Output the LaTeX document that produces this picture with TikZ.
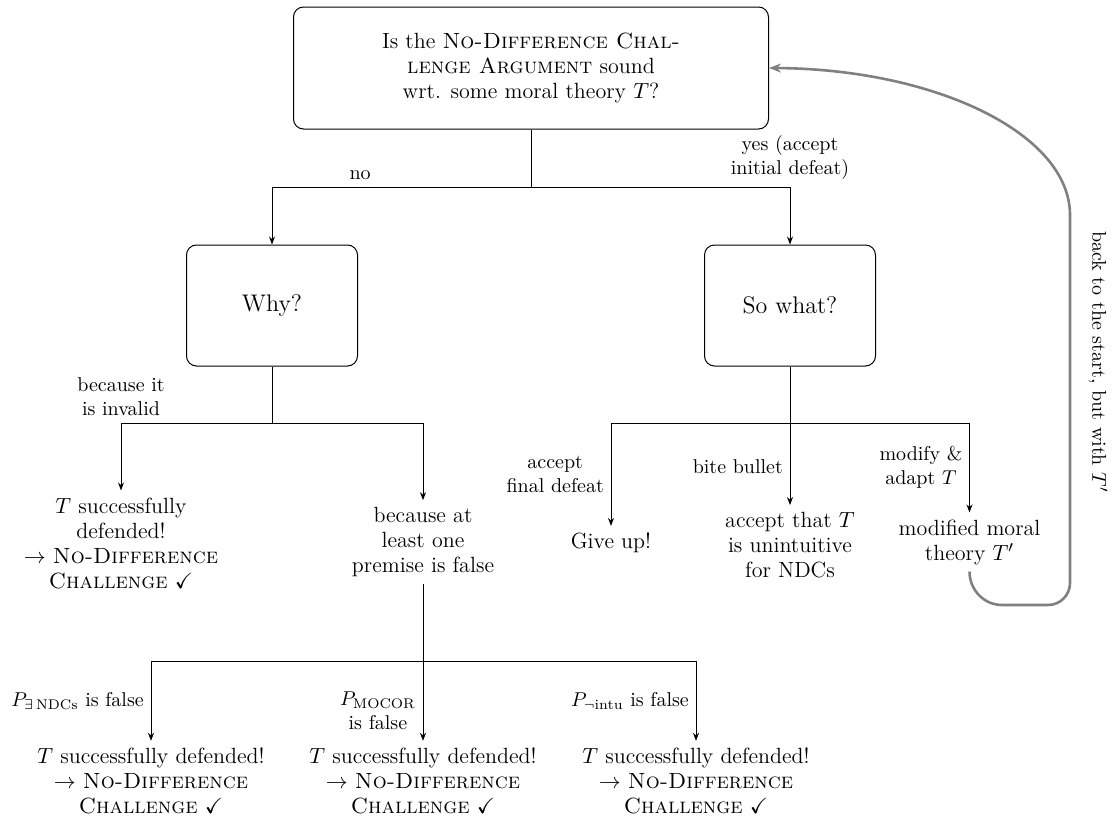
\documentclass[tikz,border=0pt]{standalone}
\usepackage{fontspec}
\usepackage{amsmath}
\usepackage{amssymb}
\usetikzlibrary{arrows.meta}

\newcommand{\ndsc}[1]{\textsc{\addfontfeature{LetterSpace=8}#1}}

\begin{document}
\begin{tikzpicture}[
    x=0.5pt, y=-0.5pt,
    >={Stealth[length=4pt, width=3pt]},
    question/.style={rectangle, draw, rounded corners=5pt, line width=0.5pt, align=center, font=\fontsize{11}{12.5}\selectfont},
    outcome/.style={align=center, font=\fontsize{11}{12.5}\selectfont},
    lbl/.style={align=center, font=\fontsize{10}{12}\selectfont},
    flow/.style={->, line width=0.5pt},
    feedback/.style={-{Stealth[length=6pt, width=4.5pt]}, gray, line width=1.3pt},
]
\useasboundingbox (0,0) rectangle (1115,819);

% Questions
\node[question, minimum width=237.5pt, minimum height=61pt] (top) at (531,68)
    {Is the \ndsc{No-Difference Chal-}\\\ndsc{lenge Argument} sound\\wrt. some moral theory $T$?};
\node[question, minimum width=85.5pt, minimum height=60.5pt] (why) at (272,305.5) {\large Why?};
\node[question, minimum width=85.5pt, minimum height=60.5pt] (sowhat) at (790,305.5) {\large So what?};

% Outcomes
\node[outcome] (defended) at (121,543) {$T$ successfully\\defended!\\$\rightarrow$ \ndsc{No-Difference}\\\ndsc{Challenge} $\checkmark$};
\node[outcome] (premise) at (423,542) {because at\\least one\\premise is false};
\node[outcome] (giveup) at (611,543) {Give up!};
\node[outcome] (unintuitive) at (790,545) {accept that $T$\\is unintuitive\\for NDCs};
\node[outcome] (modified) at (969.5,542) {modified moral\\theory $T'$};
\node[outcome] (defA) at (151,781) {$T$ successfully defended!\\$\rightarrow$ \ndsc{No-Difference}\\\ndsc{Challenge} $\checkmark$};
\node[outcome] (defB) at (423,781) {$T$ successfully defended!\\$\rightarrow$ \ndsc{No-Difference}\\\ndsc{Challenge} $\checkmark$};
\node[outcome] (defC) at (696,781) {$T$ successfully defended!\\$\rightarrow$ \ndsc{No-Difference}\\\ndsc{Challenge} $\checkmark$};

% Branch points
\coordinate (split1) at (531,187);
\coordinate (split2) at (272,423);
\coordinate (split3) at (790,423);
\coordinate (split4) at (423,661);

% First question
\draw[flow] (top.south) -- (split1) -| node[lbl, pos=0.33, above] {no} (why.north);
\draw[flow] (split1) -| node[lbl, above] {yes (accept\\initial defeat)} (sowhat.north);

% Why?
\draw[line width=0.5pt] (why.south) -- (split2);
\draw[flow] (split2) -| node[lbl, above] {because it\\is invalid} (defended.north);
\draw[flow] (split2) -| (premise.north);

% So what?
\draw[flow] (sowhat.south) -- node[lbl, pos=0.72, left] {bite bullet} (unintuitive.north);
\draw[flow] (split3) -| node[lbl, pos=0.75, left] {accept\\final defeat} (giveup.north);
\draw[flow] (split3) -| node[lbl, pos=0.75, left] {modify \&\\adapt $T$} (modified.north);

% Premises
\draw[flow] (premise.south) -- node[lbl, pos=0.81, left] {$P_{\text{\addfontfeature{LetterSpace=8}MOCOR}}$\\is false} (defB.north);
\draw[flow] (split4) -| node[lbl, pos=0.75, left] {$P_{\exists\,\text{NDCs}}$ is false} (defA.north);
\draw[flow] (split4) -| node[lbl, pos=0.75, left] {$P_{\neg\text{intu}}$ is false} (defC.north);

% Back to the start
\draw[feedback] (modified.south) to[out=-90, in=180] (1002,605) -- (1048,605)
    to[out=0, in=-90] (1070,583) -- (1070,215)
    .. controls (1070,134) and (936,69) .. (top.east);
\node[lbl, rotate=-90] (backlbl) at (1098,362) {back to the start, but with $T'$};

\end{tikzpicture}
\end{document}
